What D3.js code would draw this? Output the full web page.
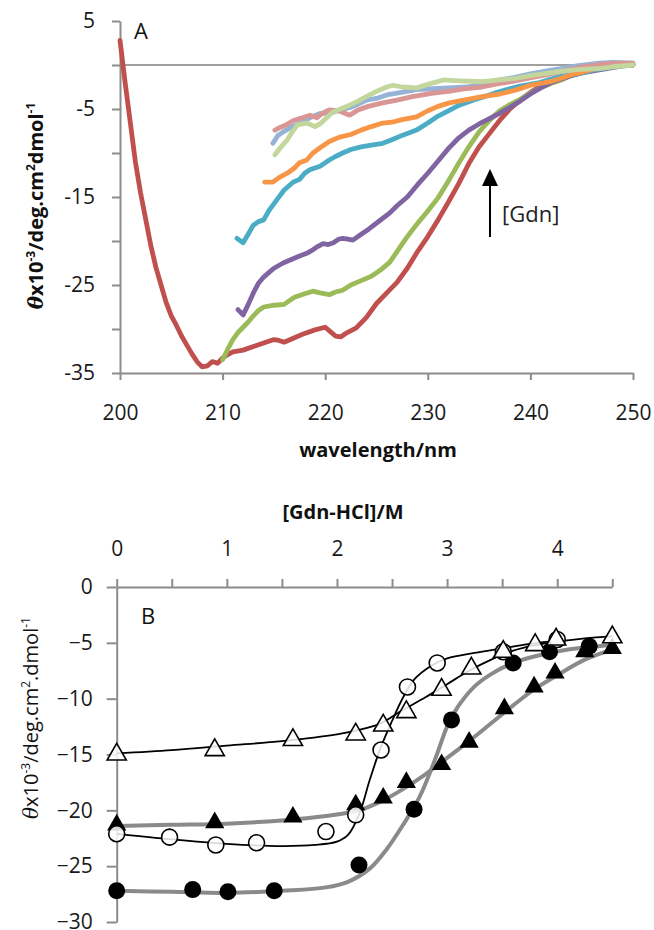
<!DOCTYPE html>
<html>
<head>
  <title>CD spectra and Gdn-HCl denaturation</title>
</head>
<style>
  body { margin: 0; background: #fff; }
  svg { display: block; font-family: "Open Sans", Lato, sans-serif; }
  .axis path, .axis line { stroke: #8c8c8c; stroke-width: 2; }
  .axis text { fill: #1a1a1a; font-size: 21px; font-family: "Open Sans", Lato, sans-serif; }
</style>
<body>
  <script src="https://d3js.org/d3.v7.min.js"></script>
  <script>
    // ---- panel A: CD spectra, [wavelength nm, theta x10^-3] ----
    const specRed = [[200,2.8],[200.5,-2],[201,-6.5],[201.5,-11],[202,-14.5],[202.5,-17.5],[203,-20.5],[203.5,-23],[204,-25],[204.5,-27],[205,-28.5],[205.5,-29.6],[206,-30.8],[206.5,-31.8],[207,-32.8],[207.5,-33.7],[208,-34.3],[208.5,-34.2],[209,-33.7],[209.5,-33.9],[210,-33.3],[210.5,-32.9],[211,-32.6],[212,-32.4],[213,-32.0],[214,-31.6],[215,-31.2],[215.5,-31.3],[216,-31.5],[217,-31.0],[218,-30.5],[219,-30.1],[220,-29.8],[220.5,-30.3],[221,-30.8],[221.5,-30.9],[222,-30.5],[223,-29.9],[224,-28.7],[225,-27.1],[226,-25.9],[227,-24.7],[228,-23.1],[229,-21.2],[230,-19.5],[231,-17.6],[232,-15.6],[233,-13.5],[234,-11.2],[235,-9.3],[236,-7.8],[237,-6.3],[238,-5.0],[239,-4.0],[240,-3.1],[241,-2.4],[242,-1.9],[243,-1.5],[244,-1.1],[245,-0.8],[246,-0.4],[247,-0.2],[248,0],[249,0.1],[250,0.1]];
    const specGreen = [[210,-33.5],[210.5,-32.3],[211,-31.2],[211.5,-30.4],[212,-29.8],[212.5,-29.2],[213,-28.5],[213.5,-27.9],[214,-27.5],[215,-27.3],[216,-27.2],[216.5,-26.8],[217,-26.4],[218,-26.0],[218.8,-25.7],[219.5,-25.9],[220.4,-26.1],[221,-25.8],[221.7,-25.6],[222.5,-25.0],[223.5,-24.5],[224.5,-24.0],[225.5,-23.2],[226.3,-22.4],[227,-21.2],[228,-19.5],[229,-18.0],[230,-16.6],[231,-15.1],[232,-13.2],[233,-11.2],[234,-9.3],[235,-7.6],[236,-6.3],[237,-5.2],[238,-4.5],[239,-3.9],[240,-3.2],[241,-2.6],[242,-2.1],[243,-1.7],[244,-1.2],[245,-0.9],[246,-0.6],[247,-0.3],[248,-0.1],[249,0],[250,0]];
    const specPurple = [[211.5,-27.8],[212,-28.4],[212.5,-27.2],[213,-25.9],[213.5,-24.8],[214,-24.1],[214.5,-23.6],[215,-23.1],[215.9,-22.5],[216.7,-22.1],[217.5,-21.7],[218.2,-21.4],[218.8,-21.0],[219.3,-20.6],[219.8,-20.3],[220.3,-20.4],[220.8,-20.2],[221.3,-19.8],[221.7,-19.7],[222.2,-19.8],[222.7,-19.9],[223.3,-19.4],[224.3,-18.6],[225.3,-17.7],[226.3,-16.8],[227,-16.0],[228,-15.0],[229,-13.6],[230,-12.3],[231,-10.9],[232,-9.5],[233,-8.3],[234,-7.4],[235,-6.7],[236,-6.1],[237,-5.5],[238,-4.8],[239,-4.1],[240,-3.3],[241,-2.6],[242,-2.0],[243,-1.6],[244,-1.2],[245,-0.9],[246,-0.7],[247,-0.5],[248,-0.3],[249,-0.1],[250,0]];
    const specTeal = [[211.4,-19.7],[212,-20.2],[212.5,-19.2],[213,-18.2],[213.5,-17.8],[214,-17.6],[214.6,-16.4],[215.3,-15.3],[216,-14.2],[216.9,-13.3],[217.5,-13.0],[218,-12.3],[218.5,-11.9],[219.5,-11.5],[220.4,-10.8],[221,-10.4],[221.7,-10.0],[222.5,-9.6],[223.5,-9.3],[224.5,-9.1],[225.6,-8.9],[226.5,-8.5],[227.5,-8.0],[228.9,-7.4],[230,-6.6],[231,-5.8],[232,-5.2],[233,-4.6],[234.4,-4.0],[235.5,-3.6],[236.5,-3.2],[237.7,-2.8],[239,-2.4],[240.9,-2.0],[242,-1.6],[243,-1.3],[244,-1.1],[245.1,-0.9],[246,-0.6],[247,-0.4],[248,-0.2],[249,-0.1],[250,0]];
    const specOrange = [[214.1,-13.3],[214.9,-13.3],[215.5,-12.8],[216.3,-12.3],[217,-11.7],[217.5,-11.1],[218.2,-10.8],[218.8,-10.0],[219.5,-9.4],[220.4,-8.7],[221.4,-8.2],[222.5,-7.9],[223.5,-7.4],[224.5,-7.0],[225.6,-6.6],[226.5,-6.5],[227.5,-6.2],[228.9,-5.9],[230,-5.2],[231,-4.7],[232.1,-4.3],[233.5,-4.0],[235.3,-3.6],[237,-3.3],[238.7,-2.8],[240,-2.3],[241.9,-1.9],[243,-1.5],[244,-1.1],[245.1,-0.8],[246,-0.5],[247,-0.3],[248,-0.1],[249,0],[250,0]];
    const specBlue = [[214.9,-8.9],[215.4,-8.0],[215.9,-7.6],[216.5,-7.2],[217.5,-6.6],[218.5,-6.0],[219.5,-5.5],[220.4,-5.5],[221.5,-5.1],[222.5,-4.8],[224,-4.0],[225,-3.8],[226,-3.4],[227,-3.2],[228.9,-2.8],[230.5,-2.7],[232,-2.6],[233.8,-2.5],[235.5,-2.1],[237,-1.7],[238.5,-1.4],[240,-1.0],[241.9,-0.6],[243,-0.4],[244.5,-0.1],[246.7,0.2],[248,0.3],[250,0.2]];
    const specPink = [[215.1,-7.4],[215.6,-7.1],[216.2,-6.8],[216.9,-6.3],[217.5,-6.1],[218.5,-5.7],[219.2,-6.0],[219.7,-5.5],[220.4,-5.1],[221.3,-5.2],[222.4,-5.7],[223.2,-5.1],[224.2,-4.7],[225.6,-4.3],[227,-4.0],[228.5,-3.6],[230.5,-3.2],[232,-3.0],[233.5,-2.7],[235.3,-2.5],[237,-2.1],[238.5,-1.8],[240.2,-1.4],[242,-1.0],[243.5,-0.6],[245.1,-0.2],[247,0.1],[248.5,0.2],[250,0.2]];
    const specLtGreen = [[215.1,-10.2],[215.7,-9.3],[216.3,-8.5],[216.8,-7.6],[217.3,-6.8],[218.2,-6.6],[219,-7.0],[219.6,-6.6],[220.4,-5.7],[220.8,-5.3],[221.5,-5.0],[222.5,-4.5],[223.2,-4.1],[224,-3.6],[225,-3.0],[226,-2.5],[226.6,-2.3],[227.5,-2.5],[228.9,-2.6],[230,-2.2],[231.5,-1.7],[233,-1.8],[235.3,-1.9],[237,-1.7],[238.7,-1.5],[240,-1.2],[241.9,-0.9],[243,-0.7],[245,-0.5],[246.7,-0.4],[248,-0.2],[250,0]];
    const spectra = [specRed, specGreen, specPurple, specTeal, specOrange, specBlue, specPink, specLtGreen];
    const specColors = ["#c0504d", "#9bbb59", "#8064a2", "#4bacc6", "#f79646", "#95b3d7", "#d99694", "#c3d69b"];
    const wlTicks = [200, 210, 220, 230, 240, 250];
    const thetaTicksA = [5, 0, -5, -10, -15, -20, -25, -30, -35];
    const thetaLabelsA = [5, -5, -15, -25, -35];

    // ---- panel B: denaturation, [Gdn-HCl] M vs theta x10^-3 ----
    const openTriX = [0, 0.89, 1.6, 2.17, 2.42, 2.63, 2.95, 3.22, 3.51, 3.8, 3.99, 4.5];
    const openTriY = [-15.0, -14.6, -13.7, -13.2, -12.4, -11.2, -9.2, -7.3, -5.8, -5.2, -4.7, -4.5];
    const openCircX = [0, 0.48, 0.9, 1.27, 1.9, 2.17, 2.4, 2.64, 2.91, 3.51, 4.0];
    const openCircY = [-22.1, -22.4, -23.1, -22.9, -21.9, -20.4, -14.6, -8.95, -6.8, -5.8, -4.7];
    const fillTriX = [0, 0.89, 1.6, 2.17, 2.42, 2.63, 2.95, 3.2, 3.52, 3.79, 3.98, 4.25, 4.5];
    const fillTriY = [-21.3, -21.1, -20.6, -19.5, -18.9, -17.5, -15.9, -13.9, -10.9, -8.95, -7.7, -5.8, -5.5];
    const fillCircX = [0, 0.69, 1.01, 1.43, 2.2, 2.7, 3.04, 3.6, 3.93, 4.29];
    const fillCircY = [-27.2, -27.1, -27.3, -27.2, -24.9, -19.9, -11.9, -6.8, -5.8, -5.3];
    // fitted curves
    const fitOpenTriX = [0, 0.5, 1, 1.5, 2, 2.2, 2.4, 2.6, 2.8, 3.0, 3.2, 3.4, 3.6, 3.8, 4.0, 4.25, 4.5];
    const fitOpenTriY = [-14.9, -14.6, -14.2, -13.8, -13.2, -12.8, -12.2, -11.0, -9.9, -8.7, -7.5, -6.5, -5.7, -5.2, -4.9, -4.6, -4.4];
    const fitOpenCircX = [0, 0.5, 1, 1.5, 1.8, 2.0, 2.1, 2.2, 2.3, 2.4, 2.5, 2.6, 2.7, 2.85, 3.0, 3.25, 3.5, 3.75, 4.0];
    const fitOpenCircY = [-22.1, -22.6, -23.0, -23.2, -23.1, -22.8, -22.2, -20.4, -17.2, -14.3, -12.0, -9.9, -8.3, -7.1, -6.4, -5.9, -5.5, -5.1, -4.8];
    const fitFillTriX = [0, 0.5, 1, 1.5, 1.9, 2.2, 2.4, 2.6, 2.8, 3.0, 3.2, 3.4, 3.6, 3.8, 4.0, 4.25, 4.5];
    const fitFillTriY = [-21.4, -21.3, -21.2, -20.9, -20.5, -20.0, -19.2, -18.1, -16.8, -15.3, -13.8, -12.2, -10.6, -9.1, -7.9, -6.5, -5.6];
    const fitFillCircX = [0, 0.5, 1, 1.5, 1.9, 2.1, 2.3, 2.45, 2.6, 2.75, 2.9, 3.0, 3.1, 3.25, 3.4, 3.6, 3.8, 4.1, 4.5];
    const fitFillCircY = [-27.2, -27.3, -27.4, -27.2, -26.9, -26.4, -25.2, -23.5, -21.3, -18.8, -15.2, -12.5, -10.7, -8.9, -7.8, -6.8, -6.2, -5.6, -5.2];
    const gdnTicks = [0, 0.5, 1, 1.5, 2, 2.5, 3, 3.5, 4, 4.5];
    const thetaTicksB = [0, -5, -10, -15, -20, -25, -30];

    const w = 654, h = 930;
    const svg = d3.select("body").append("svg").attr("width", w).attr("height", h);

    // ================= panel A =================
    const xA = d3.scaleLinear().domain([200, 250]).range([120, 633]);
    const yA = d3.scaleLinear().domain([-35, 5]).range([373, 21]);

    // zero line
    svg.append("line")
      .attr("x1", xA(200)).attr("x2", xA(250))
      .attr("y1", yA(0)).attr("y2", yA(0))
      .attr("stroke", "#a0a0a0").attr("stroke-width", 2);

    svg.append("g").attr("class", "axis")
      .attr("transform", "translate(0," + yA(-35) + ")")
      .call(d3.axisBottom(xA).tickValues(wlTicks).tickSize(7).tickPadding(25).tickSizeOuter(0));

    svg.append("g").attr("class", "axis")
      .attr("transform", "translate(" + xA(200) + ",0)")
      .call(d3.axisLeft(yA).tickValues(thetaTicksA).tickSize(8).tickPadding(17).tickSizeOuter(0)
        .tickFormat(d => thetaLabelsA.includes(d) ? d : ""));

    const lineA = d3.line().x(d => xA(d[0])).y(d => yA(d[1]));
    svg.append("g").selectAll("path")
      .data(spectra)
      .join("path")
        .attr("d", lineA)
        .attr("fill", "none")
        .attr("stroke", (d, i) => specColors[i])
        .attr("stroke-width", 4.8)
        .attr("stroke-linejoin", "round")
        .attr("stroke-linecap", "round");

    svg.append("text").attr("x", 134).attr("y", 39)
      .attr("font-size", 22).attr("fill", "#111").text("A");

    // arrow + [Gdn]
    svg.append("line").attr("x1", 490).attr("x2", 490).attr("y1", 237).attr("y2", 184)
      .attr("stroke", "#000").attr("stroke-width", 2);
    svg.append("path").attr("d", "M490,169 L482,186 L498,186 Z").attr("fill", "#000");
    svg.append("text").attr("x", 502).attr("y", 222)
      .attr("font-size", 22).attr("fill", "#222").text("[Gdn]");

    svg.append("text").attr("x", 378).attr("y", 457)
      .attr("text-anchor", "middle").attr("font-size", 20).attr("font-weight", "bold")
      .attr("fill", "#111").text("wavelength/nm");

    function yLabel(x, y, bold, dot) {
      const t = svg.append("text")
        .attr("transform", "translate(" + x + "," + y + ") rotate(-90)")
        .attr("text-anchor", "middle").attr("font-size", 20)
        .attr("font-weight", bold ? "bold" : "normal").attr("fill", "#111");
      t.append("tspan").attr("font-style", "italic").attr("font-family", "'DejaVu Serif', serif").text("θ");
      t.append("tspan").text("x10");
      t.append("tspan").attr("font-size", 12).attr("dy", -8).text("-3");
      t.append("tspan").attr("dy", 8).text("/deg.cm");
      t.append("tspan").attr("font-size", 12).attr("dy", -8).text("2");
      t.append("tspan").attr("dy", 8).text(dot ? ".dmol" : "dmol");
      t.append("tspan").attr("font-size", 12).attr("dy", -8).text("-1");
    }
    yLabel(43, 206, true, false);

    // ================= panel B =================
    const xB = d3.scaleLinear().domain([0, 4.5]).range([116.7, 612.3]);
    const yB = d3.scaleLinear().domain([-30, 0]).range([922, 587]);

    svg.append("g").attr("class", "axis")
      .attr("transform", "translate(0," + yB(0) + ")")
      .call(d3.axisTop(xB).tickValues(gdnTicks).tickSize(8).tickPadding(23).tickSizeOuter(0)
        .tickFormat(d => Number.isInteger(d) ? d : ""));

    svg.append("g").attr("class", "axis")
      .attr("transform", "translate(" + xB(0) + ",0)")
      .call(d3.axisLeft(yB).tickValues(thetaTicksB).tickSize(10).tickPadding(14).tickSizeOuter(0));

    svg.append("text").attr("x", 343).attr("y", 519)
      .attr("text-anchor", "middle").attr("font-size", 20).attr("font-weight", "bold")
      .attr("fill", "#111").text("[Gdn-HCl]/M");

    svg.append("text").attr("x", 141).attr("y", 624)
      .attr("font-size", 22).attr("fill", "#111").text("B");

    yLabel(38, 718, false, true);

    const zip = (xs, ys) => xs.map((x, i) => [x, ys[i]]);
    const lineB = d3.line().x(d => xB(d[0])).y(d => yB(d[1])).curve(d3.curveCatmullRom);

    // gray fits
    svg.append("g").selectAll("path")
      .data([zip(fitFillTriX, fitFillTriY), zip(fitFillCircX, fitFillCircY)])
      .join("path")
        .attr("d", lineB)
        .attr("fill", "none").attr("stroke", "#8a8a8a").attr("stroke-width", 4);
    // black fits
    svg.append("g").selectAll("path")
      .data([zip(fitOpenTriX, fitOpenTriY), zip(fitOpenCircX, fitOpenCircY)])
      .join("path")
        .attr("d", lineB)
        .attr("fill", "none").attr("stroke", "#000").attr("stroke-width", 1.8);

    const tri = d3.symbol().type(d3.symbolTriangle).size(160);

    // filled circles
    svg.append("g").selectAll("circle")
      .data(zip(fillCircX, fillCircY))
      .join("circle")
        .attr("cx", d => xB(d[0])).attr("cy", d => yB(d[1])).attr("r", 8.5)
        .attr("fill", "#000");
    // filled triangles
    svg.append("g").selectAll("path")
      .data(zip(fillTriX, fillTriY))
      .join("path")
        .attr("d", tri)
        .attr("transform", d => "translate(" + xB(d[0]) + "," + yB(d[1]) + ")")
        .attr("fill", "#000");
    // open circles
    svg.append("g").selectAll("circle")
      .data(zip(openCircX, openCircY))
      .join("circle")
        .attr("cx", d => xB(d[0])).attr("cy", d => yB(d[1])).attr("r", 8)
        .attr("fill", "#fff").attr("fill-opacity", 0.85)
        .attr("stroke", "#000").attr("stroke-width", 1.6);
    // open triangles
    svg.append("g").selectAll("path")
      .data(zip(openTriX, openTriY))
      .join("path")
        .attr("d", tri)
        .attr("transform", d => "translate(" + xB(d[0]) + "," + yB(d[1]) + ")")
        .attr("fill", "#fff").attr("fill-opacity", 0.85)
        .attr("stroke", "#000").attr("stroke-width", 1.6);
  </script>
</body>
</html>
